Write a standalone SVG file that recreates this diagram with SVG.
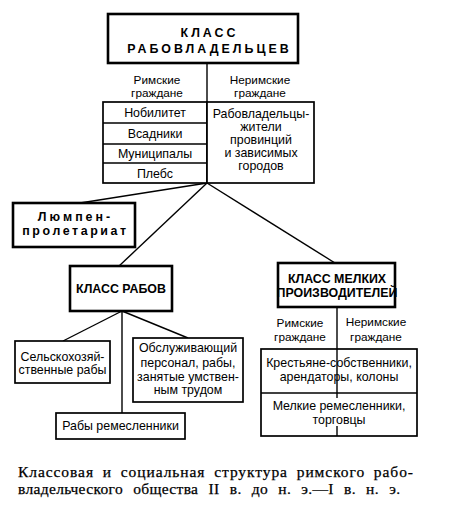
<svg xmlns="http://www.w3.org/2000/svg" width="453" height="517" viewBox="0 0 453 517">
<style>
.thick{fill:#fff;stroke:#000;stroke-width:2.6}
.thin{fill:#fff;stroke:#000;stroke-width:1.7}
.ln{stroke:#000;stroke-width:1.4;fill:none}
.t{font-family:"Liberation Sans",Arial,sans-serif;font-size:12.4px;text-anchor:middle;fill:#000}
.s{font-size:11.8px}
.b{font-weight:bold}
.cap{font-family:"Liberation Serif","Times New Roman",serif;font-size:15.5px;fill:#000;stroke:#000;stroke-width:0.25}
</style>
<rect width="453" height="517" fill="#fff"/>
<g id="connectors">
<line class="ln" x1="207" y1="63" x2="207" y2="102"/>
<line class="ln" x1="207" y1="183" x2="80" y2="203"/>
<line class="ln" x1="207" y1="183" x2="118" y2="267"/>
<line class="ln" x1="207" y1="183" x2="335" y2="263"/>
<line class="ln" x1="122" y1="311" x2="63" y2="341"/>
<line class="ln" x1="122" y1="311" x2="188" y2="338"/>
<line class="ln" x1="122" y1="311" x2="122" y2="413"/>
<line class="ln" x1="337" y1="307" x2="337" y2="349"/>
</g>
<g id="slaveowners">
<rect class="thick" x="108" y="14" width="190" height="49"/>
<text class="t b" x="209.5" y="37" font-size="13" letter-spacing="3">КЛАСС</text>
<text class="t b" x="209.5" y="53" font-size="13" letter-spacing="3">РАБОВЛАДЕЛЬЦЕВ</text>
</g>
<g id="labels-top">
<text class="t s" x="157" y="84">Римские</text>
<text class="t s" x="157" y="97">граждане</text>
<text class="t s" x="260" y="84">Неримские</text>
<text class="t s" x="260" y="97">граждане</text>
</g>
<g id="roman-citizens">
<rect class="thin" x="103" y="102" width="104" height="81"/>
<line class="ln" x1="103" y1="123" x2="207" y2="123"/>
<line class="ln" x1="103" y1="144" x2="207" y2="144"/>
<line class="ln" x1="103" y1="163" x2="207" y2="163"/>
<text class="t" x="155" y="117">Нобилитет</text>
<text class="t" x="155" y="138">Всадники</text>
<text class="t" x="155" y="158">Муниципалы</text>
<text class="t" x="155" y="178">Плебс</text>
</g>
<g id="non-roman">
<rect class="thin" x="207" y="102" width="107" height="81"/>
<text class="t" x="261" y="118">Рабовладельцы-</text>
<text class="t" x="261" y="131">жители</text>
<text class="t" x="261" y="144">провинций</text>
<text class="t" x="261" y="157">и зависимых</text>
<text class="t" x="261" y="170">городов</text>
</g>
<g id="lumpen">
<rect class="thick" x="13" y="203" width="122" height="44"/>
<text class="t b" x="75.5" y="221" font-size="12" letter-spacing="3">Люмпен-</text>
<text class="t b" x="75.5" y="235" font-size="12" letter-spacing="2.6">пролетариат</text>
</g>
<g id="slaves">
<rect class="thick" x="70" y="266" width="102" height="45"/>
<text class="t b" x="121" y="293" font-size="11">КЛАСС РАБОВ</text>
</g>
<g id="agri-slaves">
<rect class="thin" x="15" y="341" width="95" height="42"/>
<text class="t" x="62.5" y="361">Сельскохозяй-</text>
<text class="t" x="62.5" y="374">ственные рабы</text>
</g>
<g id="service-slaves">
<rect class="thin" x="133" y="338" width="110" height="64"/>
<text class="t" x="188" y="352">Обслуживающий</text>
<text class="t" x="188" y="367">персонал, рабы,</text>
<text class="t" x="188" y="381">занятые умствен-</text>
<text class="t" x="188" y="394">ным трудом</text>
</g>
<g id="craft-slaves">
<rect class="thin" x="56" y="413" width="129" height="26"/>
<text class="t" x="120.5" y="430">Рабы ремесленники</text>
</g>
<g id="small-producers">
<rect class="thick" x="278" y="263" width="117" height="44"/>
<text class="t b" x="337" y="283" font-size="12">КЛАСС МЕЛКИХ</text>
<text class="t b" x="337" y="297" font-size="11.5">ПРОИЗВОДИТЕЛЕЙ</text>
</g>
<g id="labels-bottom">
<text class="t s" x="300" y="327">Римские</text>
<text class="t s" x="300" y="341">граждане</text>
<text class="t s" x="376" y="326">Неримские</text>
<text class="t s" x="376" y="341">граждане</text>
</g>
<g id="small-producers-table">
<rect class="thin" x="261" y="349" width="156" height="87"/>
<line class="ln" x1="261" y1="393" x2="417" y2="393"/>
<line class="ln" x1="337" y1="349" x2="337" y2="398"/>
<line class="ln" x1="337" y1="426" x2="337" y2="436"/>
<text class="t" x="339" y="367">Крестьяне-собственники,</text>
<text class="t" x="339" y="381">арендаторы, колоны</text>
<text class="t" x="339" y="410">Мелкие ремесленники,</text>
<text class="t" x="339" y="424">торговцы</text>
</g>
<g id="caption">
<text class="cap" x="18" y="477" word-spacing="4" textLength="395">Классовая и социальная структура римского рабо-</text>
<text class="cap" x="18" y="494" word-spacing="6" textLength="382">владельческого общества II в. до н. э.—I в. н. э.</text>
</g>
</svg>
